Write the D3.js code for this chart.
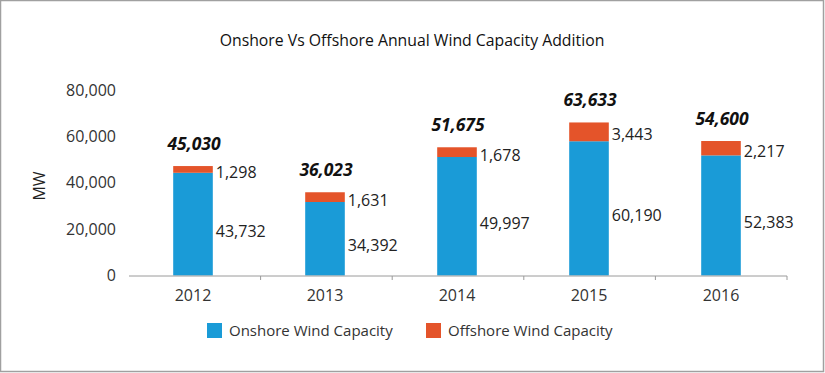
<!DOCTYPE html>
<html lang="en">
<head>
  <meta charset="utf-8">
  <title>Onshore Vs Offshore Annual Wind Capacity Addition</title>
  <style>
    body { margin: 0; background: #fff; }
    svg text { font-family: "Open Sans", sans-serif; fill: #222; }
  </style>
</head>
<body>
  <script src="https://cdn.jsdelivr.net/npm/d3@7"></script>
  <script>
    var width = 825;
    var height = 373;

    // data
    var years = ["2012", "2013", "2014", "2015", "2016"];
    // values printed on the chart
    var onshoreLabels = [43732, 34392, 49997, 60190, 52383];
    var offshoreLabels = [1298, 1631, 1678, 3443, 2217];
    var totalLabels = [45030, 36023, 51675, 63633, 54600];
    // bar heights as they are drawn in the picture
    var onshoreBars = [44300, 31700, 51100, 57900, 51800];
    var offshoreBars = [2900, 4200, 4200, 8100, 6200];
    var yTicks = [0, 20000, 40000, 60000, 80000];
    var seriesNames = ["Onshore Wind Capacity", "Offshore Wind Capacity"];
    var colors = ["#1a9bd7", "#e4542a"];

    var fmt = d3.format(",");

    var svg = d3.select("body").append("svg")
                .attr("width", width)
                .attr("height", height);

    // frame
    svg.append("rect")
       .attr("x", 0.5).attr("y", 0.5)
       .attr("width", width - 2).attr("height", height - 2)
       .attr("fill", "#fff")
       .attr("stroke", "#a0a0a0")
       .attr("stroke-width", 1.5);

    // title
    svg.append("text")
       .attr("x", 412).attr("y", 46)
       .attr("text-anchor", "middle")
       .style("font-size", "15.8px")
       .style("fill", "#111")
       .text("Onshore Vs Offshore Annual Wind Capacity Addition");

    var x = d3.scaleBand().domain(years).range([127, 787]).paddingInner(0.7).paddingOuter(0.35);
    var y = d3.scaleLinear().domain([0, 80000]).range([275.5, 90]);

    // y tick labels
    svg.selectAll(".ytick").data(yTicks).enter().append("text")
       .attr("class", "ytick")
       .attr("x", 116)
       .attr("y", function(d){ return y(d); })
       .attr("dy", "0.35em")
       .attr("text-anchor", "end")
       .style("font-size", "16px")
       .style("fill", "#333")
       .text(function(d){ return fmt(d); });

    // y title
    svg.append("text")
       .attr("transform", "translate(45,186) rotate(-90)")
       .attr("text-anchor", "middle")
       .style("font-size", "16px")
       .text("MW");

    // stacked bars
    var rows = years.map(function(yr, i){
      return { year: yr, on: onshoreBars[i], off: offshoreBars[i], i: i };
    });
    var stack = d3.stack().keys(["on", "off"])(rows);

    svg.selectAll(".series").data(stack).enter().append("g")
       .attr("class", "series")
       .attr("fill", function(d, k){ return colors[k]; })
       .selectAll("rect").data(function(d){ return d; }).enter().append("rect")
       .attr("x", function(d){ return x(d.data.year); })
       .attr("width", x.bandwidth())
       .attr("y", function(d){ return y(d[1]); })
       .attr("height", function(d){ return y(d[0]) - y(d[1]); });

    // x axis
    var band = (787 - 129) / years.length;
    svg.append("line")
       .attr("x1", 129).attr("x2", 787)
       .attr("y1", 276).attr("y2", 276)
       .attr("stroke", "#9a9a9a").attr("stroke-width", 1);
    svg.selectAll(".xtickmark").data(d3.range(1, years.length + 1)).enter().append("line")
       .attr("class", "xtickmark")
       .attr("x1", function(d){ return 129 + d * band; })
       .attr("x2", function(d){ return 129 + d * band; })
       .attr("y1", 276).attr("y2", 280)
       .attr("stroke", "#9a9a9a");
    svg.selectAll(".xlabel").data(years).enter().append("text")
       .attr("class", "xlabel")
       .attr("x", function(d){ return x(d) + x.bandwidth() / 2; })
       .attr("y", 301)
       .attr("text-anchor", "middle")
       .style("font-size", "16px")
       .style("fill", "#333")
       .text(function(d){ return d; });

    // value labels
    var lx = function(d){ return x(d.year) + x.bandwidth() + 3; };
    svg.selectAll(".onlabel").data(rows).enter().append("text")
       .attr("class", "onlabel")
       .attr("x", lx)
       .attr("y", function(d){ return (y(0) + y(d.on)) / 2 + 7; })
       .attr("dy", "0.35em")
       .style("font-size", "16px")
       .text(function(d){ return fmt(onshoreLabels[d.i]); });

    svg.selectAll(".offlabel").data(rows).enter().append("text")
       .attr("class", "offlabel")
       .attr("x", lx)
       .attr("y", function(d){ return (y(d.on) + y(d.on + d.off)) / 2 + 3; })
       .attr("dy", "0.35em")
       .style("font-size", "16px")
       .text(function(d){ return fmt(offshoreLabels[d.i]); });

    svg.selectAll(".totlabel").data(rows).enter().append("text")
       .attr("class", "totlabel")
       .attr("x", function(d){ return x(d.year) + x.bandwidth() / 2 + 1; })
       .attr("y", function(d){ return y(d.on + d.off) - 16; })
       .attr("text-anchor", "middle")
       .style("font-size", "17.5px")
       .style("font-weight", "bold")
       .style("font-style", "italic")
       .style("fill", "#111")
       .text(function(d){ return fmt(totalLabels[d.i]); });

    // legend
    var legX = [207, 426];
    var leg = svg.selectAll(".legend").data(seriesNames).enter().append("g")
                 .attr("class", "legend")
                 .attr("transform", function(d, i){ return "translate(" + legX[i] + ",323)"; });
    leg.append("rect")
       .attr("width", 15).attr("height", 15)
       .attr("fill", function(d, i){ return colors[i]; });
    leg.append("text")
       .attr("x", 22).attr("y", 7.5)
       .attr("dy", "0.35em")
       .style("font-size", "15px")
       .style("fill", "#333")
       .text(function(d){ return d; });
  </script>
</body>
</html>
